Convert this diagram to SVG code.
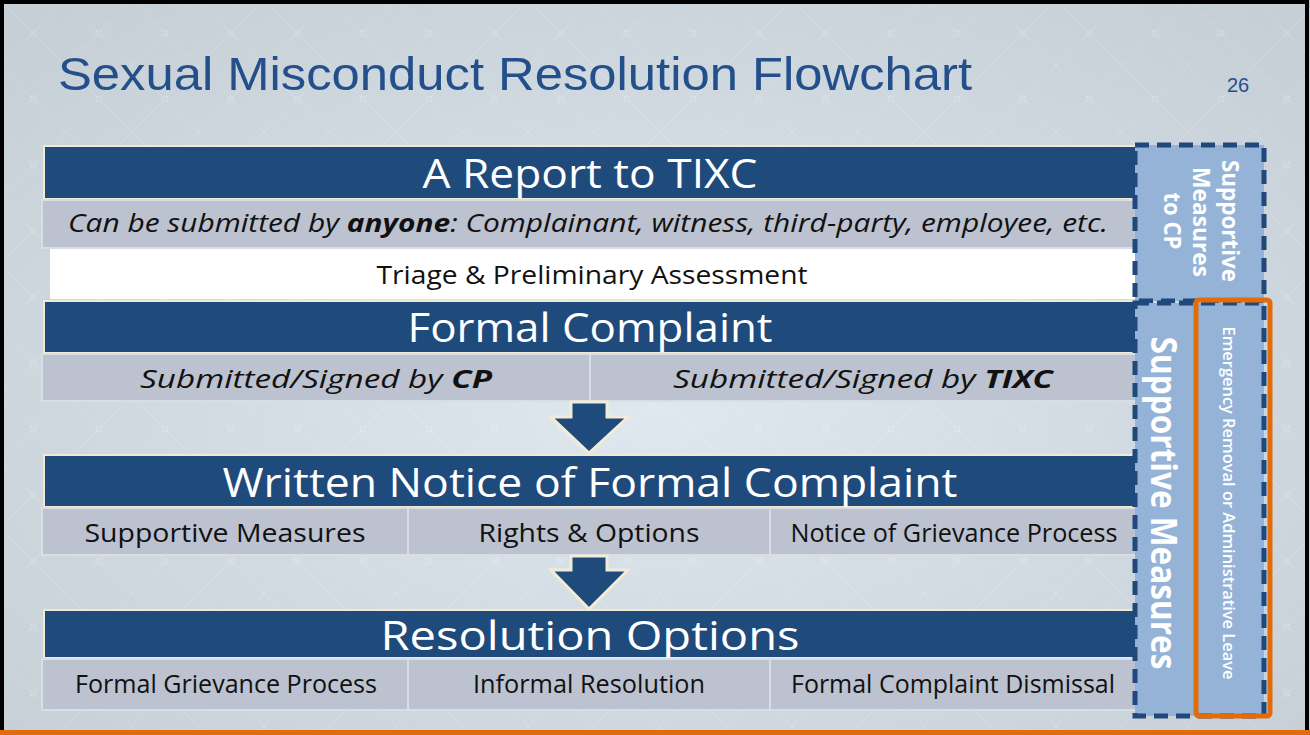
<svg xmlns="http://www.w3.org/2000/svg" width="1310" height="735" viewBox="0 0 1310 735">
<defs>
<radialGradient id="bg" cx="0.5" cy="0.55" r="0.7">
<stop offset="0" stop-color="#dfe8ee"/>
<stop offset="1" stop-color="#c6ced6"/>
</radialGradient>
<pattern id="dia" width="66" height="66" patternUnits="userSpaceOnUse">
<path d="M0 0 L66 66 M66 0 L0 66" stroke="#ffffff" stroke-opacity="0.16" stroke-width="1" fill="none"/>
<circle cx="33" cy="33" r="3" fill="none" stroke="#ffffff" stroke-opacity="0.2"/>
</pattern>
<style>
.band{fill:#1f4a7c;stroke:#efe9d6;stroke-width:2}
.cell{fill:#bcc2cf;stroke:#d9dde4;stroke-width:2}
.white{fill:#ffffff}
.ht{font-family:"Open Sans","Noto Sans",sans-serif;font-size:41px;fill:#ffffff;text-anchor:middle}
.ct{font-family:"Open Sans","Noto Sans",sans-serif;font-size:25px;fill:#111111;text-anchor:middle}
.it{font-style:italic}
.b{font-weight:bold}
.arrow{fill:#1f4a7c;stroke:#f1ebd8;stroke-width:3;stroke-linejoin:miter}
.dash{fill:#95b3d7;stroke:#1f497d;stroke-width:5;stroke-dasharray:14 8}
.vt{font-family:"Open Sans","Noto Sans",sans-serif;fill:#ffffff;font-weight:bold;text-anchor:middle}
</style>
</defs>
<rect x="0" y="0" width="1310" height="735" fill="url(#bg)"/>
<rect x="0" y="0" width="1310" height="735" fill="url(#dia)"/>
<rect x="2" y="2" width="1305" height="740" fill="none" stroke="#000000" stroke-width="4"/>
<rect x="0" y="730" width="1310" height="5" fill="#e36c0a"/>

<g id="title">
<text x="58" y="90" font-family="Liberation Sans, Arial, sans-serif" font-size="46" fill="#234f8b" textLength="914" lengthAdjust="spacingAndGlyphs">Sexual Misconduct Resolution Flowchart</text>
<text x="1238" y="92" font-family="Liberation Sans, Arial, sans-serif" font-size="20" fill="#234f8b" text-anchor="middle">26</text>
</g>

<g id="report">
<rect class="band" x="44" y="146" width="1094" height="53"/>
<text class="ht" x="590" y="188" textLength="335" lengthAdjust="spacingAndGlyphs">A Report to TIXC</text>
<rect class="cell" x="42" y="200" width="1096" height="48"/>
<text class="ct it" x="588" y="232" font-size="28" textLength="1040" lengthAdjust="spacingAndGlyphs">Can be submitted by <tspan class="b">anyone</tspan>: Complainant, witness, third-party, employee, etc.</text>
</g>

<g id="triage">
<rect class="white" x="50" y="249" width="1087" height="50"/>
<text class="ct" x="592" y="284" font-size="26" textLength="431" lengthAdjust="spacingAndGlyphs">Triage &amp; Preliminary Assessment</text>
</g>

<g id="formal-complaint">
<rect class="band" x="44" y="301" width="1094" height="52"/>
<text class="ht" x="590" y="342" textLength="365" lengthAdjust="spacingAndGlyphs">Formal Complaint</text>
<rect class="cell" x="42" y="354" width="548" height="47"/>
<rect class="cell" x="590" y="354" width="548" height="47"/>
<text class="ct it" x="316" y="388" font-size="28" textLength="352" lengthAdjust="spacingAndGlyphs">Submitted/Signed by <tspan class="b">CP</tspan></text>
<text class="ct it" x="863" y="388" font-size="28" textLength="380" lengthAdjust="spacingAndGlyphs">Submitted/Signed by <tspan class="b">TIXC</tspan></text>
</g>

<g id="written-notice">
<rect class="band" x="44" y="455" width="1094" height="52"/>
<text class="ht" x="590" y="497" textLength="735" lengthAdjust="spacingAndGlyphs">Written Notice of Formal Complaint</text>
<rect class="cell" x="42" y="508" width="366" height="47"/>
<rect class="cell" x="408" y="508" width="362" height="47"/>
<rect class="cell" x="770" y="508" width="368" height="47"/>
<text class="ct" x="225" y="542" font-size="26" textLength="281" lengthAdjust="spacingAndGlyphs">Supportive Measures</text>
<text class="ct" x="589" y="542" font-size="26" textLength="221" lengthAdjust="spacingAndGlyphs">Rights &amp; Options</text>
<text class="ct" x="954" y="542" textLength="327" lengthAdjust="spacingAndGlyphs">Notice of Grievance Process</text>
</g>

<g id="resolution-options">
<rect class="band" x="44" y="610" width="1094" height="48"/>
<text class="ht" x="590" y="650" textLength="419" lengthAdjust="spacingAndGlyphs">Resolution Options</text>
<rect class="cell" x="42" y="659" width="366" height="51"/>
<rect class="cell" x="408" y="659" width="362" height="51"/>
<rect class="cell" x="770" y="659" width="368" height="51"/>
<text class="ct" x="226" y="693" textLength="302" lengthAdjust="spacingAndGlyphs">Formal Grievance Process</text>
<text class="ct" x="589" y="693" textLength="232" lengthAdjust="spacingAndGlyphs">Informal Resolution</text>
<text class="ct" x="953" y="693" textLength="324" lengthAdjust="spacingAndGlyphs">Formal Complaint Dismissal</text>
</g>

<g id="connectors">
<path class="arrow" d="M571 402 L607 402 L607 417 L628 417 L589 453 L551 417 L571 417 Z"/>
<path class="arrow" d="M571 556 L607 556 L607 570 L628 570 L589 609 L551 570 L571 570 Z"/>
</g>

<g id="supportive-cp">
<rect class="dash" x="1135" y="145" width="129" height="156"/>
<g class="vt" font-size="23">
<text transform="translate(1230,221) rotate(90)" y="8" textLength="122" lengthAdjust="spacingAndGlyphs">Supportive</text>
<text transform="translate(1201,222) rotate(90)" y="8" textLength="110" lengthAdjust="spacingAndGlyphs">Measures</text>
<text transform="translate(1172,221) rotate(90)" y="8" textLength="57" lengthAdjust="spacingAndGlyphs">to CP</text>
</g>
</g>

<g id="supportive-measures">
<rect class="dash" x="1135" y="303" width="129" height="413"/>
<text class="vt" font-size="35" transform="translate(1163,503) rotate(90)" y="12" textLength="333" lengthAdjust="spacingAndGlyphs">Supportive Measures</text>
</g>

<g id="emergency-removal">
<rect x="1196" y="300" width="74" height="416" rx="3" fill="none" stroke="#e36c0a" stroke-width="5"/>
<text class="vt" font-size="16" transform="translate(1228,503) rotate(90)" y="5" style="font-weight:600" textLength="353" lengthAdjust="spacingAndGlyphs">Emergency Removal or Administrative Leave</text>
</g>
</svg>
